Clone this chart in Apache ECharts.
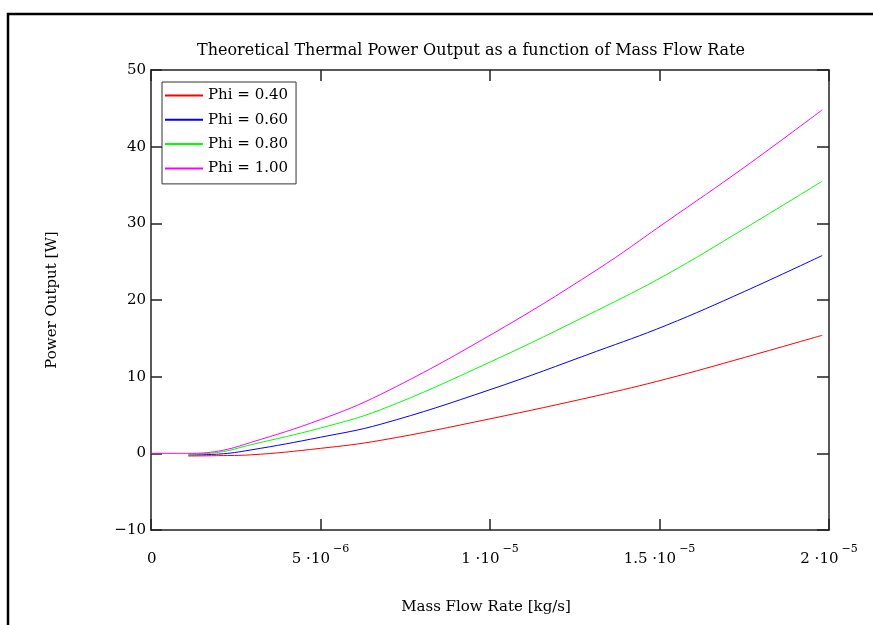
<!DOCTYPE html>
<html>
<head>
<meta charset="utf-8">
<script src="https://cdn.jsdelivr.net/npm/echarts@6/dist/echarts.min.js"></script>
<style>
  html, body { margin: 0; padding: 0; background: #fff; }
  #chart { width: 873px; height: 625px; }
</style>
</head>
<body>
<div id="chart"></div>
<script>
// mass flow rate [kg/s]
const massFlow = [1.1e-6, 2e-6, 2.93e-6, 5e-6, 6.78e-6, 1e-5, 1.314e-5, 1.52e-5, 1.75e-5, 1.98e-5]

// power output [W] for each phi
const phi040 = [-0.35, -0.3, -0.2, 0.65, 1.7, 4.5, 7.5, 9.7, 12.5, 15.4]
const phi060 = [-0.2, -0.1, 0.43, 2.1, 3.8, 8.3, 13.3, 16.7, 21.1, 25.8]
const phi080 = [-0.1, 0.13, 1.1, 3.3, 5.7, 11.9, 18.6, 23.3, 29.3, 35.5]
// the magenta curve also has a point at the origin
const phi100x = [0, 1.1e-6, 2e-6, 2.93e-6, 5e-6, 6.78e-6, 1e-5, 1.314e-5, 1.52e-5, 1.75e-5, 1.98e-5]
const phi100 = [0, 0, 0.3, 1.4, 4.4, 7.7, 15.4, 23.9, 30.2, 37.3, 44.8]

const seriesNames = ['Phi = 0.40', 'Phi = 0.60', 'Phi = 0.80', 'Phi = 1.00']
const seriesColors = ['#ff0000', '#0000ff', '#00ff00', '#ff00ff']

// x tick labels: mantissa and exponent
const xTickMantissa = ['0', '5 ·10', '1 ·10', '1.5 ·10', '2 ·10']
const xTickExponent = ['', '−6', '−5', '−5', '−5']

const FONT = 'DejaVu Serif'
const AXIS_COLOR = '#222'

const pairs = (xs, ys) => xs.map((x, i) => [x, ys[i]])

const chart = echarts.init(document.getElementById('chart'))

const lineSeries = (name, data, color) => ({
  name,
  type: 'line',
  data,
  xAxisIndex: 0,
  yAxisIndex: 0,
  symbol: 'none',
  smooth: 0.4,
  lineStyle: { color, width: 1 },
  itemStyle: { color }
})

// frame axes (top / right) only carry inside ticks
const axisLine = { show: true, onZero: false, lineStyle: { color: AXIS_COLOR, width: 1.5 } }
const tick = (len) => ({ show: true, inside: true, length: len, lineStyle: { color: AXIS_COLOR, width: 1.5 } })

chart.setOption({
  animation: false,
  backgroundColor: '#fff',
  title: {
    text: 'Theoretical Thermal Power Output as a function of Mass Flow Rate',
    left: 466,
    top: 38,
    textAlign: 'center',
    textStyle: { fontFamily: FONT, fontSize: 16, fontWeight: 'normal', color: '#000' }
  },
  graphic: [
    {
      // outer frame
      type: 'rect',
      shape: { x: 8, y: 14, width: 1000, height: 800 },
      style: { fill: 'none', stroke: '#000', lineWidth: 2.5 },
      silent: true
    },
    {
      type: 'text',
      x: 486,
      y: 607,
      style: { text: 'Mass Flow Rate [kg/s]', font: '15px ' + FONT, fill: '#000', align: 'center', verticalAlign: 'middle' }
    },
    {
      type: 'text',
      rotation: Math.PI / 2,
      x: 52,
      y: 300,
      style: { text: 'Power Output [W]', font: '15px ' + FONT, fill: '#000', align: 'center', verticalAlign: 'middle' }
    }
  ],
  legend: {
    data: seriesNames,
    orient: 'vertical',
    left: 162,
    top: 82,
    itemWidth: 38,
    itemHeight: 16,
    itemGap: 9.3,
    padding: [6, 8, 8, 2],
    borderColor: '#333',
    borderWidth: 1,
    backgroundColor: '#fff',
    itemStyle: { opacity: 0 },
    textStyle: { fontFamily: FONT, fontSize: 15, color: '#000' }
  },
  grid: { left: 151, right: 44, top: 70, bottom: 95 },
  xAxis: [
    {
      type: 'value',
      min: 0,
      max: 2e-5,
      interval: 5e-6,
      axisLine,
      axisTick: tick(11),
      splitLine: { show: false },
      axisLabel: {
        margin: 14,
        formatter: (v) => {
          const i = Math.round(v / 5e-6)
          if (!xTickExponent[i]) return '{m0|' + xTickMantissa[i] + '}{e| }'
          return '{m|' + xTickMantissa[i] + '}{e|' + xTickExponent[i] + '}'
        },
        rich: {
          m: { fontFamily: FONT, fontSize: 15, color: '#000', verticalAlign: 'bottom' },
          m0: { fontFamily: FONT, fontSize: 15, color: '#000', verticalAlign: 'bottom', padding: [0, 0, 0, 8] },
          e: { fontFamily: FONT, fontSize: 11, color: '#000', verticalAlign: 'top', padding: [0, 0, 12, 3] }
        }
      }
    },
    {
      type: 'value',
      position: 'top',
      min: 0,
      max: 2e-5,
      interval: 5e-6,
      axisLine,
      axisTick: tick(11),
      axisLabel: { show: false },
      splitLine: { show: false }
    }
  ],
  yAxis: [
    {
      type: 'value',
      min: -10,
      max: 50,
      interval: 10,
      axisLine,
      axisTick: tick(11),
      splitLine: { show: false },
      axisLabel: {
        margin: 5,
        fontFamily: FONT,
        fontSize: 15,
        color: '#000',
        formatter: (v) => String(v).replace('-', '−')
      }
    },
    {
      type: 'value',
      position: 'right',
      min: -10,
      max: 50,
      interval: 10,
      axisLine,
      axisTick: tick(12),
      axisLabel: { show: false },
      splitLine: { show: false }
    }
  ],
  series: [
    lineSeries(seriesNames[0], pairs(massFlow, phi040), seriesColors[0]),
    lineSeries(seriesNames[1], pairs(massFlow, phi060), seriesColors[1]),
    lineSeries(seriesNames[2], pairs(massFlow, phi080), seriesColors[2]),
    lineSeries(seriesNames[3], pairs(phi100x, phi100), seriesColors[3])
  ]
})
</script>
</body>
</html>
